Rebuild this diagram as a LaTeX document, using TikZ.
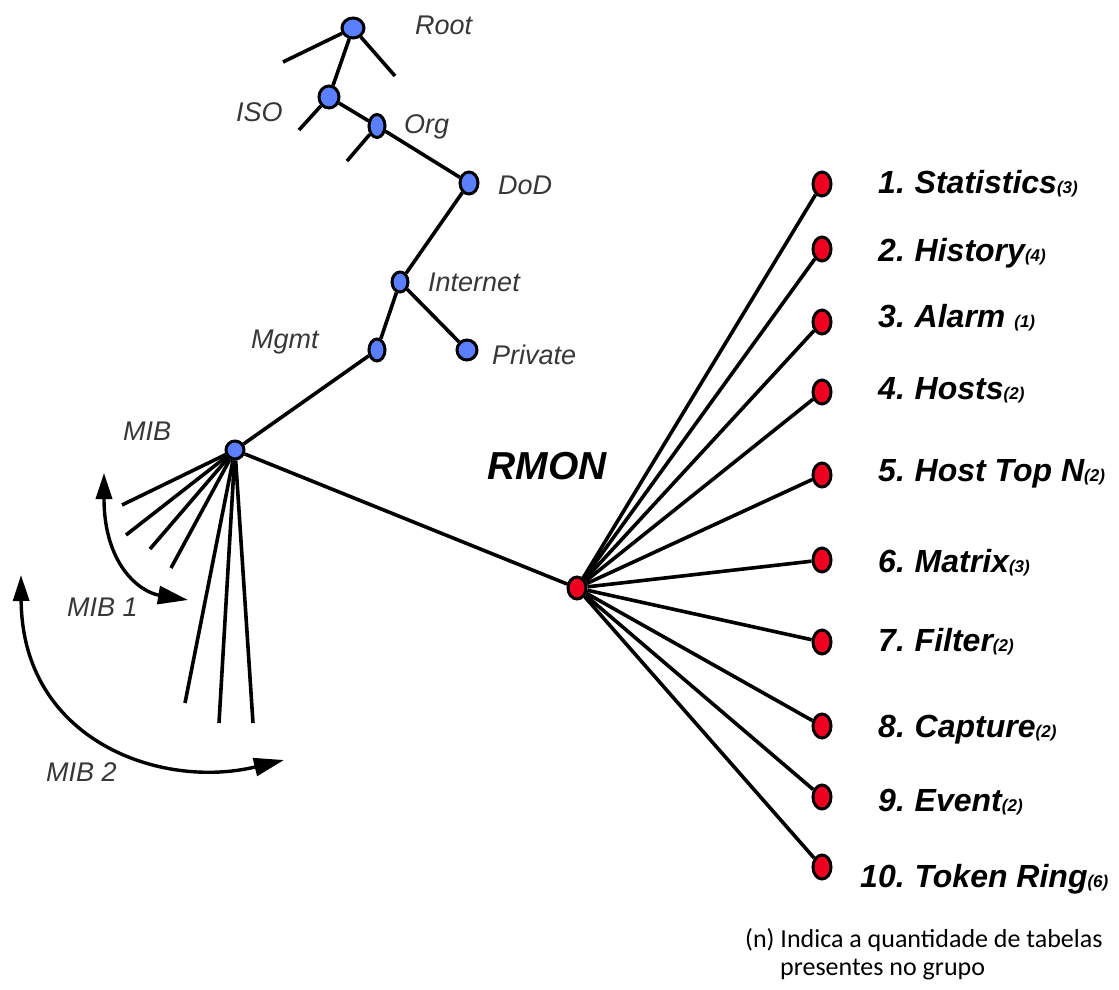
\documentclass[tikz,border=0pt]{standalone}
\usepackage{fontspec}
\setmainfont{Liberation Sans}
\newfontfamily\footfont{Carlito}
\usetikzlibrary{shapes.geometric,arrows.meta}
\definecolor{blueN}{RGB}{90,128,255}
\definecolor{redN}{RGB}{240,0,32}
\definecolor{labelgray}{RGB}{55,55,55}
\begin{document}
\begin{tikzpicture}[x=1pt,y=-1pt,
  bnode/.style={ellipse,draw=black,line width=3pt,fill=blueN,inner sep=0pt,minimum width=19pt,minimum height=21pt},
  rnode/.style={ellipse,draw=black,line width=3pt,fill=redN,inner sep=0pt,minimum width=18pt,minimum height=24pt},
  edge/.style={line width=3.6pt},
  lbl/.style={font=\fontsize{27}{30}\selectfont\itshape,text=labelgray,anchor=west,inner sep=0pt},
  grp/.style={font=\fontsize{32}{36}\selectfont\bfseries\itshape,anchor=west,inner sep=0pt},
  foot/.style={font=\footfont\fontsize{26}{28}\selectfont,anchor=west,inner sep=0pt},
  marrow/.style={line width=3.4pt,{Triangle[length=26pt,width=16pt]}-{Triangle[length=30pt,width=18pt]}}
]
\useasboundingbox (0,0) rectangle (1119,990);

% blue tree nodes
\node[bnode,minimum width=22pt,minimum height=20pt] (root) at (353,28) {};
\node[bnode,minimum width=20pt,minimum height=22pt] (iso) at (329,97) {};
\node[bnode,minimum width=16pt,minimum height=23pt] (org) at (377,126) {};
\node[bnode,minimum width=18pt,minimum height=22pt] (dod) at (469,183) {};
\node[bnode,minimum width=16pt,minimum height=20pt] (internet) at (400,282) {};
\node[bnode,minimum width=16pt,minimum height=22pt] (mgmt) at (377,350) {};
\node[bnode,minimum width=20pt,minimum height=20pt] (private) at (467,350) {};
\node[bnode,minimum width=18pt,minimum height=18pt] (mib) at (235,450) {};
\node[rnode,minimum height=22pt] (rmon) at (577,588) {};

% stub ends
\coordinate (rs1) at (283,62);
\coordinate (rs2) at (395,76);
\coordinate (is1) at (299,130);
\coordinate (os1) at (347,161);
\coordinate (f1) at (122,505);
\coordinate (f2) at (126,535);
\coordinate (f3) at (150,549);
\coordinate (f4) at (171,568);
\coordinate (f5) at (185,703);
\coordinate (f6) at (219,723);
\coordinate (f7) at (253,723);

% tree edges
\draw[edge] (root) -- (rs1);
\draw[edge] (root) -- (rs2);
\draw[edge] (root) -- (iso);
\draw[edge] (iso) -- (is1);
\draw[edge] (iso) -- (org);
\draw[edge] (org) -- (os1);
\draw[edge] (org) -- (dod);
\draw[edge] (dod) -- (internet);
\draw[edge] (internet) -- (mgmt);
\draw[edge] (internet) -- (private);
\draw[edge] (mgmt) -- (mib);
\draw[edge] (mib) -- (rmon);
\foreach \f in {f1,f2,f3,f4,f5,f6,f7} \draw[edge] (mib) -- (\f);

% tree labels
\node[lbl] (lroot) at (415,25) {Root};
\node[lbl] (liso) at (236,112) {ISO};
\node[lbl] (lorg) at (404,127) {Org};
\node[lbl] (ldod) at (498,185) {DoD};
\node[lbl] (lint) at (428,282) {Internet};
\node[lbl] (lmgmt) at (251,342) {Mgmt};
\node[lbl] (lpriv) at (492,355) {Private};
\node[lbl] (lmib) at (123,431) {MIB};
\node[lbl] (lmib1) at (67,607) {MIB 1};
\node[lbl] (lmib2) at (46,772) {MIB 2};

% MIB arrows
\coordinate (a1s) at (104,473);
\coordinate (a1e) at (188,600);
\coordinate (a2s) at (21,575);
\coordinate (a2e) at (284,760);
\draw[marrow] (a1s) .. controls (104,565) and (140,592) .. (a1e);
\draw[marrow] (a2s) .. controls (22,740) and (160,790) .. (a2e);

% RMON
\node[font=\fontsize{39}{42}\selectfont\bfseries\itshape,inner sep=0pt] (lrmon) at (547,466) {RMON};

% RMON groups
\foreach \i/\y in {1/184,2/249,3/322,4/392,5/475,6/560,7/642,8/726,9/797,10/867}
  \node[rnode] (g\i) at (822,\y) {};
\foreach \i in {1,...,10} \draw[edge] (rmon) -- (g\i);

\node[grp] (t1) at (878,184) {1.\kern-2pt{} Statistics{\fontsize{17}{20}\selectfont(3)}};
\node[grp] (t2) at (878,253) {2.\kern-2pt{} History{\fontsize{17}{20}\selectfont(4)}};
\node[grp] (t3) at (878,318) {3.\kern-2pt{} Alarm {\fontsize{17}{20}\selectfont(1)}};
\node[grp] (t4) at (878,390) {4.\kern-2pt{} Hosts{\fontsize{17}{20}\selectfont(2)}};
\node[grp] (t5) at (878,474) {5.\kern-2pt{} Host Top N{\fontsize{17}{20}\selectfont(2)}};
\node[grp] (t6) at (878,563) {6.\kern-2pt{} Matrix{\fontsize{17}{20}\selectfont(3)}};
\node[grp] (t7) at (878,642) {7.\kern-2pt{} Filter{\fontsize{17}{20}\selectfont(2)}};
\node[grp] (t8) at (878,730) {8.\kern-2pt{} Capture{\fontsize{17}{20}\selectfont(2)}};
\node[grp] (t9) at (878,802) {9.\kern-2pt{} Event{\fontsize{17}{20}\selectfont(2)}};
\node[grp] (t10) at (860,879) {10.\kern-2pt{} Token Ring{\fontsize{17}{20}\selectfont(6)}};

% footnote
\node[foot] (n1) at (745,940) {(n) Indica a quantidade de tabelas};
\node[foot] (n2) at (780,970) {presentes no grupo};
\end{tikzpicture}
\end{document}
